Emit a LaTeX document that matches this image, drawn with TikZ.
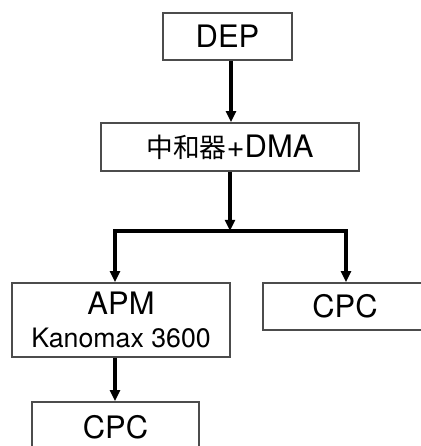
\documentclass[tikz,border=0pt]{standalone}
\usepackage{fontspec}
\setmainfont{TeX Gyre Heros}
\newfontfamily\jpfont{Noto Sans CJK JP}
\usetikzlibrary{arrows.meta}
\begin{document}
\begin{tikzpicture}[
        x=0.025cm, y=-0.025cm,
        % box styles
        box/.style={
            rectangle, draw=black!70, line width=1pt, fill=white,
            inner sep=0pt, font=\fontsize{22}{26}\selectfont
        },
        arr/.style={-{Triangle[length=8pt,width=7pt]}, line width=2.4pt},
        link/.style={line width=2.4pt}
    ]
        \useasboundingbox (0,0) rectangle (420,446);

        % nodes at pixel coordinates
        \node[box, minimum width=129*0.025cm, minimum height=47*0.025cm] (dep) at (227.5,36.5) {DEP};
        \node[box, minimum width=258*0.025cm, minimum height=48*0.025cm] (dma) at (230,147)
            {{\jpfont\fontsize{19}{22}\selectfont 中和器}+DMA};
        \node[box, minimum width=218*0.025cm, minimum height=74*0.025cm, align=center] (apm) at (121,320)
            {APM\\[-3pt]{\fontsize{19}{22}\selectfont Kanomax 3600}};
        \node[box, minimum width=164*0.025cm, minimum height=47*0.025cm] (cpcr) at (345,306.5) {CPC};
        \node[box, minimum width=167*0.025cm, minimum height=50*0.025cm] (cpcb) at (115.5,427) {CPC};

        % branch points
        \coordinate (dtop) at (231,0);
        \coordinate (split) at (230,231);
        \coordinate (lb) at (115,231);
        \coordinate (rb) at (346,231);

        % arrows
        \draw[arr] (dep.south -| dtop) -- (dma.north -| dtop);
        \draw[arr] (dma.south -| split) -- (split);
        \draw[link, line cap=rect] (lb) -- (rb);
        \draw[arr] (lb) -- (lb |- apm.north);
        \draw[arr] (rb) -- (rb |- cpcr.north);
        \draw[arr] (lb |- apm.south) -- (lb |- cpcb.north);
\end{tikzpicture}
\end{document}
